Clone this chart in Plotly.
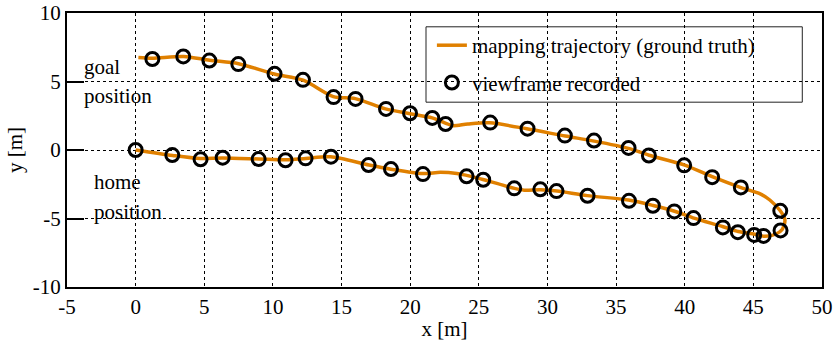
import plotly.graph_objects as go

# Ground-truth mapping trajectory (outbound along the lower path, loop at the far end, return along the upper path)
traj_x = [0.0, 2.7, 4.7, 6.3, 9.0, 10.9, 12.4, 14.2, 17.0, 18.6, 20.9, 22.2, 23.4, 24.1, 25.3,
          27.6, 28.3, 29.5, 30.7, 32.9, 35.9, 37.7, 39.2, 40.6, 42.8, 43.9, 45.1, 45.8, 46.6,
          47.1, 47.3, 46.96, 46.2, 45.5, 44.1, 42.0, 40.0, 37.4, 35.9, 33.4, 31.3, 28.5, 25.8,
          24.2, 23.1, 22.6, 21.6, 20.0, 18.2, 16.0, 14.4, 12.2, 10.1, 7.5, 5.4, 3.5, 1.2, 0.2]
traj_y = [0.0, -0.4, -0.62, -0.58, -0.66, -0.72, -0.62, -0.5, -1.1, -1.4, -1.72, -1.63, -1.71, -1.85, -2.15,
          -2.8, -2.93, -2.9, -3.0, -3.33, -3.65, -4.05, -4.45, -4.95, -5.6, -5.95, -6.15, -6.3, -6.15,
          -5.8, -5.1, -4.44, -3.65, -3.2, -2.75, -1.95, -1.1, -0.38, 0.12, 0.65, 1.02, 1.55, 1.98,
          1.9, 1.78, 1.95, 2.35, 2.65, 3.0, 3.75, 3.9, 5.1, 5.55, 6.3, 6.55, 6.83, 6.7, 6.75]

# Positions where a viewframe was recorded
view_x = [0.0, 2.67, 4.73, 6.34, 8.96, 10.92, 12.38, 14.23, 16.97, 18.60, 20.93, 24.11, 25.32,
          27.58, 29.48, 30.66, 32.92, 35.94, 37.68, 39.24, 40.64, 42.78, 43.87, 45.06, 45.74, 46.98,
          46.96, 44.09, 42.00, 39.96, 37.39, 35.91, 33.39, 31.27, 28.55, 25.83, 22.58, 21.61,
          19.99, 18.24, 16.02, 14.42, 12.19, 10.12, 7.48, 5.37, 3.47, 1.22]
view_y = [0.0, -0.37, -0.68, -0.56, -0.66, -0.75, -0.61, -0.49, -1.10, -1.39, -1.76, -1.92, -2.17,
          -2.80, -2.87, -3.00, -3.34, -3.71, -4.07, -4.48, -4.97, -5.65, -6.00, -6.20, -6.27, -5.87,
          -4.44, -2.73, -1.98, -1.12, -0.40, 0.15, 0.69, 1.05, 1.56, 2.00, 1.90, 2.34,
          2.68, 3.00, 3.73, 3.86, 5.12, 5.56, 6.27, 6.53, 6.83, 6.64]

x_ticks = [-5, 0, 5, 10, 15, 20, 25, 30, 35, 40, 45, 50]
y_ticks = [-10, -5, 0, 5, 10]

FONT = "Liberation Serif, Times New Roman, serif"
FS = 21
ORANGE = "#e08000"

fig = go.Figure()
fig.add_trace(go.Scatter(
    x=traj_x, y=traj_y, mode="lines",
    line=dict(color=ORANGE, width=3.5, shape="spline", smoothing=0.8),
    name="mapping trajectory (ground truth)", legendgroup="traj",
))
fig.add_trace(go.Scatter(
    x=view_x, y=view_y, mode="markers",
    marker=dict(symbol="circle-open", size=13, color="black", line=dict(width=3)),
    name="viewframe recorded", legendgroup="views",
))

axis_common = dict(
    showline=True, linecolor="black", linewidth=2, mirror=True,
    showgrid=True, gridcolor="black", gridwidth=1, griddash="dot",
    zeroline=False, automargin=False,
    tickfont=dict(family=FONT, size=FS, color="black"),
    title_font=dict(family=FONT, size=FS, color="black"),
)

fig.update_xaxes(
    range=[-5, 50], tickmode="array", tickvals=x_ticks, ticktext=[str(v) for v in x_ticks],
    ticks="", title_text="x [m]", title_standoff=8, **axis_common,
)
fig.update_yaxes(
    range=[-10, 10], tickmode="array", tickvals=y_ticks, ticktext=[str(v) for v in y_ticks],
    ticks="inside", ticklen=17, tickwidth=1.5, tickcolor="black",
    title_text="y [m]", title_standoff=4, **axis_common,
)

# Legend frame
fig.add_shape(type="rect", xref="paper", yref="paper",
              x0=0.4755, x1=0.9739, y0=0.6745, y1=0.9496,
              line=dict(color="#222", width=1), fillcolor="white", layer="between")

# Start / end labels
labels = [("goal", -3.88, 6.03), ("position", -3.88, 3.91),
          ("home", -3.16, -2.30), ("position", -3.16, -4.53)]
for txt, lx, ly in labels:
    fig.add_annotation(x=lx, y=ly, text=txt, showarrow=False, xanchor="left", yanchor="middle",
                       font=dict(family=FONT, size=FS, color="black"))

fig.update_layout(
    width=835, height=341,
    margin=dict(l=67, r=13, t=13, b=54),
    paper_bgcolor="white", plot_bgcolor="white",
    font=dict(family=FONT, size=FS, color="black"),
    legend=dict(x=0.4833, y=0.956, xanchor="left", yanchor="top",
                bgcolor="rgba(0,0,0,0)", borderwidth=0, tracegroupgap=7,
                font=dict(family=FONT, size=FS, color="black")),
)

fig.write_html("out.html")
